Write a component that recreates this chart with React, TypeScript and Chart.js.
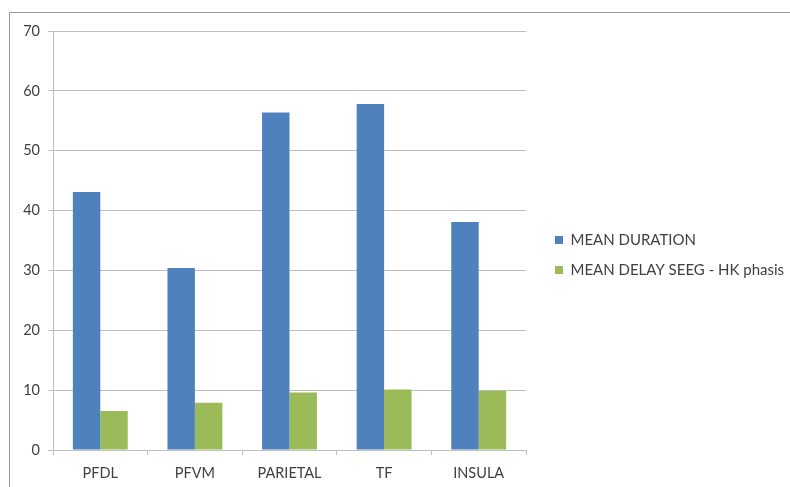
import React, { useEffect, useRef } from "react";
import { Chart, registerables } from "chart.js";

Chart.register(...registerables);

const categories = ["PFDL", "PFVM", "PARIETAL", "TF", "INSULA"];
const meanDuration = [43.1, 30.4, 56.4, 57.8, 38.1];
const meanDelay = [6.5, 7.9, 9.6, 10.1, 9.9];
const seriesLabels = ["MEAN DURATION", "MEAN DELAY SEEG - HK phasis"];
const yTicks = [0, 10, 20, 30, 40, 50, 60, 70];

const FONT = "Lato";
const TEXT = "#404040";
const GRID = "#bfbfbf";
const CW = 780;
const CH = 474;

export default function App() {
  const ref = useRef<HTMLCanvasElement | null>(null);

  useEffect(() => {
    if (!ref.current) return;
    const legendShift = {
      id: "legendShift",
      beforeLayout(c: any) {
        const lg = c.legend;
        if (lg && !lg._patched) {
          const orig = lg.fit.bind(lg);
          lg.fit = function () {
            orig();
            this.width = 264;
          };
          lg._patched = true;
        }
      },
      afterLayout(c: any) {
        const lg = c.legend;
        if (lg) {
          lg.left += 14;
          lg.top -= 3;
        }
      },
    };
    const chart = new Chart(ref.current, {
      type: "bar",
      data: {
        labels: categories,
        datasets: [
          {
            label: seriesLabels[0],
            data: meanDuration,
            backgroundColor: "#4f81bd",
            categoryPercentage: 0.58,
            barPercentage: 1,
          },
          {
            label: seriesLabels[1],
            data: meanDelay,
            backgroundColor: "#9bbb59",
            categoryPercentage: 0.58,
            barPercentage: 1,
          },
        ],
      },
      options: {
        animation: false,
        responsive: false,
        devicePixelRatio: 1,
        layout: { padding: { left: 0, top: 18, right: 0, bottom: 5 } },
        plugins: {
          tooltip: { enabled: false },
          legend: {
            position: "right",
            labels: {
              boxWidth: 8,
              boxHeight: 8,
              padding: 15,
              color: TEXT,
              font: { family: FONT, size: 15 },
            },
          },
        },
        scales: {
          x: {
            afterFit(scale: any) {
              scale.height = 32;
            },
            grid: {
              display: true,
              drawOnChartArea: false,
              drawTicks: true,
              tickLength: 5,
              offset: true,
              color: GRID,
            },
            border: { color: GRID, width: 1 },
            ticks: {
              color: TEXT,
              padding: 10,
              maxRotation: 0,
              autoSkip: false,
              font: { family: FONT, size: 14.5 },
            },
          },
          y: {
            min: 0,
            max: 70,
            afterFit(scale: any) {
              scale.width = 43;
            },
            afterBuildTicks(scale: any) {
              scale.ticks = yTicks.map((v) => ({ value: v }));
            },
            grid: { color: GRID, tickLength: 5 },
            border: { color: GRID, width: 1 },
            ticks: {
              color: TEXT,
              padding: 8,
              font: { family: FONT, size: 14.5 },
            },
          },
        },
      },
      plugins: [legendShift],
    });
    return () => chart.destroy();
  }, []);

  return (
    <div
      style={{
        position: "fixed",
        left: 0,
        top: 0,
        width: 790,
        height: 487,
        overflow: "hidden",
        background: "#ffffff",
      }}
    >
      <div
        style={{
          position: "absolute",
          left: 9,
          top: 12,
          width: 800,
          height: 490,
          borderLeft: "1px solid #9a9a9a",
          borderTop: "1px solid #9a9a9a",
        }}
      />
      <canvas
        ref={ref}
        width={CW}
        height={CH}
        style={{
          position: "absolute",
          left: 10,
          top: 13,
          width: CW,
          height: CH,
          display: "block",
        }}
      />
    </div>
  );
}
